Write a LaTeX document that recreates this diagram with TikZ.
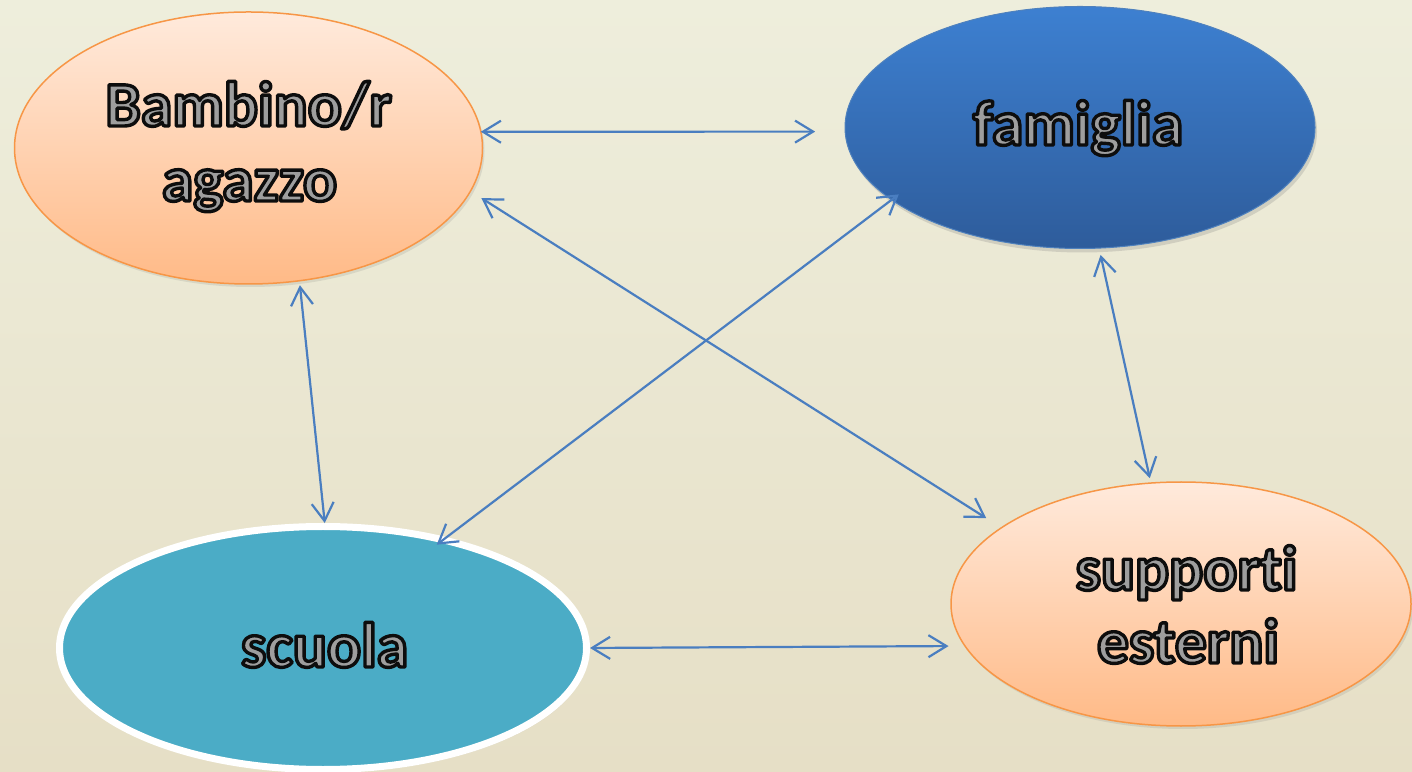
\documentclass[tikz,border=0pt]{standalone}
\usepackage{fontspec}
\newfontfamily\carlito[Ligatures=NoCommon]{Carlito}
\usetikzlibrary{arrows.meta,shapes.geometric,shadows}
\definecolor{bgtop}{RGB}{238,238,220}
\definecolor{bgbot}{RGB}{230,223,198}
\definecolor{peachtop}{RGB}{255,234,220}
\definecolor{peachbot}{RGB}{255,186,135}
\definecolor{orangeline}{RGB}{247,150,70}
\definecolor{bluetop}{RGB}{61,128,209}
\definecolor{bluebot}{RGB}{46,92,155}
\definecolor{blueline}{RGB}{79,129,189}
\definecolor{tealfill}{RGB}{75,172,198}
\definecolor{arrowblue}{RGB}{74,126,192}
\definecolor{txtgray}{RGB}{158,158,158}
\newcommand\outlinetxt[1]{\special{pdf:literal direct 0.05 0.05 0.05 RG 2 Tr 3.4 w 1 j}#1\special{pdf:literal direct 0 Tr}}
\begin{document}
\begin{tikzpicture}[x=1pt,y=1pt,
  bubble/.style={ellipse, inner sep=0pt, outer sep=0pt},
  peach/.style={bubble, draw=orangeline, line width=1.5pt, top color=peachtop, bottom color=peachbot,
    drop shadow={opacity=0.18, shadow xshift=2pt, shadow yshift=-3pt}},
  bluebub/.style={bubble, draw=blueline, line width=1pt, top color=bluetop, bottom color=bluebot,
    drop shadow={opacity=0.25, shadow xshift=2pt, shadow yshift=-4pt}},
  tealbub/.style={bubble, draw=white, line width=7pt, fill=tealfill,
    drop shadow={opacity=0.15, shadow xshift=2pt, shadow yshift=-3pt}},
  txt/.style={anchor=base, text=txtgray, inner sep=0pt, font=\carlito\bfseries\fontsize{63.5}{74}\selectfont},
  conn/.style={draw=arrowblue, line width=2.2pt, {Straight Barb[length=18pt,width=22pt]}-{Straight Barb[length=18pt,width=22pt]}}]
\useasboundingbox (0,0) rectangle (1412,771);
\shade[top color=bgtop, bottom color=bgbot] (0,0) rectangle (1412,771);

\node[peach, minimum width=468pt, minimum height=272pt] (b) at (248.5,623) {};
\node[bluebub, minimum width=470pt, minimum height=242pt] (f) at (1080,643.5) {};
\node[tealbub, minimum width=527pt, minimum height=243pt] (sc) at (323,123) {};
\node[peach, minimum width=460pt, minimum height=244pt] (s) at (1181,167) {};

\node[txt] (bt1) at (248.5,645) {\outlinetxt{Bambino/r}};
\node[txt] (bt2) at (249.5,570) {\outlinetxt{agazzo}};
\node[txt] (ft) at (1078,626) {\outlinetxt{famiglia}};
\node[txt] (sct) at (324.5,104) {\outlinetxt{scuola}};
\node[txt] (st1) at (1186.5,181) {\outlinetxt{supporti}};
\node[txt] (st2) at (1188,108) {\outlinetxt{esterni}};

\draw[conn, shorten >=30pt] (b.4) -- (f.181);
\draw[conn, shorten <=13pt, shorten >=18pt] (b.-11.33) -- (s.157.6);
\draw[conn, shorten <=-9pt, shorten >=-8pt] (f.201.72) -- (sc.42.1);
\draw[conn, shorten <=4.5pt, shorten >=3.5pt] (b.-69.4) -- (sc.89.08);
\draw[conn, shorten <=7pt, shorten >=5pt] (f.-81.08) -- (s.104.68);
\draw[conn, shorten <=3.5pt, shorten >=16.5pt] (sc.0) -- (s.191.6);
\end{tikzpicture}
\end{document}
